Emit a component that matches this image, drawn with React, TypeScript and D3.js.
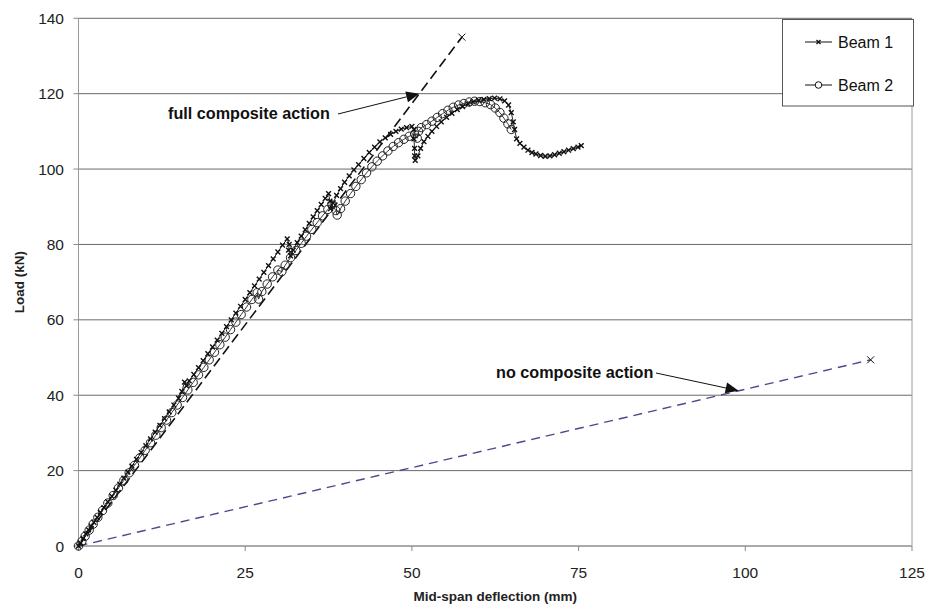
import React from "react";
import * as d3 from "d3";

const W = 931;
const H = 609;

const xTicks = [0, 25, 50, 75, 100, 125];
const yTicks = [0, 20, 40, 60, 80, 100, 120, 140];

const seriesNames = ["Beam 1", "Beam 2"];

const beam1X = [0, 0.3, 0.7, 1.1, 1.5, 1.9, 2.3, 2.8, 3.3, 3.8, 4.4, 5.0, 5.6, 6.2, 6.8, 7.4, 8.0, 8.7, 9.4, 10.1, 10.8, 11.5, 12.2, 12.9, 13.6, 14.3, 15.0, 15.5, 15.9, 16.2, 16.6, 17.3, 18.0, 18.7, 19.4, 20.1, 20.8, 21.5, 22.2, 22.9, 23.6, 24.3, 25.0, 25.7, 26.4, 27.1, 27.8, 28.5, 29.2, 29.9, 30.6, 31.3, 31.6, 31.5, 31.8, 32.2, 32.8, 33.4, 34.0, 34.6, 35.2, 35.8, 36.4, 37.0, 37.5, 37.7, 37.8, 38.2, 38.7, 39.3, 39.9, 40.6, 41.3, 42.0, 42.8, 43.6, 44.4, 45.2, 46.0, 46.8, 47.6, 48.4, 49.2, 50.0, 50.3, 50.3, 50.4, 50.4, 50.5, 50.9, 51.3, 51.8, 52.4, 53.0, 53.7, 54.4, 55.2, 56.0, 56.8, 57.6, 58.4, 59.2, 60.0, 60.8, 61.6, 62.4, 63.2, 63.9, 64.5, 64.9, 65.2, 65.4, 65.7, 66.2, 66.8, 67.4, 68.0, 68.6, 69.3, 70.0, 70.7, 71.4, 72.1, 72.8, 73.5, 74.2, 74.9, 75.4];
const beam1Y = [0, 0.8, 2.0, 3.2, 4.3, 5.3, 6.3, 7.6, 8.9, 10.2, 11.7, 13.2, 14.8, 16.4, 18.0, 19.6, 21.2, 23.0, 24.8, 26.6, 28.4, 30.2, 32.0, 33.8, 35.6, 37.4, 39.2, 41.0, 43.5, 42.5, 43.8, 45.5, 47.3, 49.2, 51.0, 52.8, 54.6, 56.4, 58.2, 60.0, 61.8, 63.6, 65.4, 67.2, 69.0, 70.8, 72.6, 74.4, 76.2, 78.0, 79.8, 81.5, 80.0, 78.5, 77.0, 78.5, 80.5, 82.2, 83.9, 85.6, 87.3, 89.0, 90.6, 92.2, 93.5, 91.5, 89.5, 91.0, 93.0, 94.8, 96.5, 98.2, 99.8, 101.2, 102.8, 104.4, 105.8, 107.2, 108.3, 109.2, 110.0, 110.6, 111.0, 111.3, 110.5, 108.0, 105.5, 103.5, 102.3, 103.5, 105.5, 107.3, 108.7, 110.0, 111.3, 112.5, 113.7, 114.8, 115.8, 116.6, 117.3, 117.8, 118.2, 118.5, 118.7, 118.8, 118.6, 118.1, 117.0, 115.0, 112.5, 110.5, 108.0, 106.8, 105.8, 105.0, 104.4, 104.0, 103.6, 103.4, 103.5, 103.8, 104.2, 104.6, 105.0, 105.4, 105.8, 106.2];

const beam2X = [0, 0.5, 1.0, 1.6, 2.2, 2.9, 3.6, 4.4, 5.2, 6.0, 6.8, 7.6, 8.4, 9.2, 10.0, 10.8, 11.6, 12.4, 13.2, 14.0, 14.8, 15.6, 16.4, 17.2, 18.0, 18.8, 19.6, 20.4, 21.2, 22.0, 22.8, 23.6, 24.4, 25.2, 26.0, 26.8, 27.0, 27.5, 28.3, 29.1, 29.9, 30.5, 31.0, 31.8, 32.6, 33.4, 34.2, 35.0, 35.8, 36.6, 37.4, 38.0, 38.6, 38.8, 39.3, 40.0, 40.8, 41.6, 42.4, 43.2, 44.0, 44.8, 45.6, 46.4, 47.2, 48.0, 48.8, 49.6, 50.4, 50.8, 51.0, 51.4, 52.2, 53.0, 53.8, 54.6, 55.4, 56.2, 57.0, 57.8, 58.6, 59.4, 60.2, 61.0, 61.8, 62.5, 63.2, 63.8, 64.4, 64.9];
const beam2Y = [0, 1.2, 2.6, 4.2, 5.8, 7.6, 9.4, 11.4, 13.4, 15.4, 17.4, 19.4, 21.4, 23.4, 25.4, 27.4, 29.4, 31.4, 33.4, 35.4, 37.4, 39.4, 41.4, 43.4, 45.4, 47.4, 49.4, 51.4, 53.4, 55.4, 57.4, 59.4, 61.4, 63.4, 65.4, 67.2, 65.5, 67.5, 69.5, 71.4, 73.2, 72.8, 74.5, 76.5, 78.4, 80.3, 82.2, 84.0, 85.8, 87.6, 89.3, 90.5, 89.0, 87.8, 89.5, 91.5, 93.5, 95.4, 97.2, 99.0, 100.6, 102.1, 103.5, 104.8, 106.0, 107.0, 107.9, 108.7, 109.3, 108.2, 110.0, 111.0, 111.8, 112.7, 113.7, 114.7, 115.6, 116.4, 117.0, 117.4, 117.8, 118.0, 117.9, 117.6, 117.1, 116.2, 115.0, 113.5, 112.0, 110.5];

const fullCompositeX = [0, 57.5];
const fullCompositeY = [0, 135];
const noCompositeX = [0, 118.8];
const noCompositeY = [0, 49.4];

const annotations = ["full composite action", "no composite action"];

const FONT = "'Liberation Sans', Arial, sans-serif";

export default function App() {
  const left = 78.5;
  const right = 912;
  const top = 18.3;
  const bottom = 546;
  const x = d3.scaleLinear().domain([0, 125]).range([left, right]);
  const y = d3.scaleLinear().domain([0, 140]).range([bottom, top]);

  const b1 = beam1X.map((v, i) => [v, beam1Y[i]] as [number, number]);
  const b2 = beam2X.map((v, i) => [v, beam2Y[i]] as [number, number]);
  const fc = fullCompositeX.map((v, i) => [v, fullCompositeY[i]] as [number, number]);
  const nc = noCompositeX.map((v, i) => [v, noCompositeY[i]] as [number, number]);

  const line = d3
    .line<[number, number]>()
    .x((d) => x(d[0]))
    .y((d) => y(d[1]));

  const xMark = (cx: number, cy: number, s: number, key: string, sw = 1) => (
    <path
      key={key}
      d={`M${cx - s},${cy - s}L${cx + s},${cy + s}M${cx - s},${cy + s}L${cx + s},${cy - s}`}
      stroke="#111"
      strokeWidth={sw}
      fill="none"
    />
  );

  const fcTip: [number, number] = [x(51.1), y(120)];
  const ncTip: [number, number] = [x(99), y(41.2)];

  const arrowHead = (from: [number, number], to: [number, number], key: string) => {
    const ang = Math.atan2(to[1] - from[1], to[0] - from[0]);
    const len = 13;
    const half = 5.5;
    const bx = to[0] - len * Math.cos(ang);
    const by = to[1] - len * Math.sin(ang);
    const px = -Math.sin(ang) * half;
    const py = Math.cos(ang) * half;
    return (
      <g key={key}>
        <line x1={from[0]} y1={from[1]} x2={bx} y2={by} stroke="#111" strokeWidth={1} />
        <path d={`M${to[0]},${to[1]}L${bx + px},${by + py}L${bx - px},${by - py}Z`} fill="#111" />
      </g>
    );
  };

  return (
    <svg
      width={W}
      height={H}
      style={{ position: "absolute", left: 0, top: 0, background: "#fff" }}
      fontFamily={FONT}
    >
      <rect x={0} y={0} width={W} height={H} fill="#fff" />
      {yTicks.filter((t) => t > 0).map((t) => (
        <line key={"g" + t} x1={left} x2={right} y1={y(t)} y2={y(t)} stroke="#6a6a6a" strokeWidth={1} />
      ))}
      <line x1={right} x2={right} y1={top} y2={bottom} stroke="#9a9a9a" strokeWidth={1} />
      <line x1={left} x2={left} y1={top} y2={bottom} stroke="#9a9a9a" strokeWidth={1} />
      {yTicks.map((t) => (
        <g key={"yt" + t}>
          <line x1={left - 5} x2={left} y1={y(t)} y2={y(t)} stroke="#888" strokeWidth={1} />
          <text x={64} y={y(t)} dy="0.36em" textAnchor="end" fontSize={15.5} fill="#222">
            {t}
          </text>
        </g>
      ))}
      <line x1={left} x2={right} y1={bottom} y2={bottom} stroke="#aaa" strokeWidth={2} />
      {xTicks.map((t) => (
        <g key={"xt" + t}>
          <line x1={x(t)} x2={x(t)} y1={bottom} y2={bottom + 5} stroke="#888" strokeWidth={1} />
          <text x={x(t)} y={572} dy="0.36em" textAnchor="middle" fontSize={15.5} fill="#222">
            {t}
          </text>
        </g>
      ))}

      <text
        transform={`translate(19,${(top + bottom) / 2}) rotate(-90)`}
        textAnchor="middle"
        dy="0.36em"
        fontSize={13.5}
        fontWeight="bold"
        fill="#222"
      >
        Load (kN)
      </text>
      <text x={(left + right) / 2} y={596} dy="0.36em" textAnchor="middle" fontSize={13.5} fontWeight="bold" fill="#222">
        Mid-span deflection (mm)
      </text>

      <path d={line(nc) || ""} stroke="#4b4a8c" strokeWidth={1.4} strokeDasharray="9,6" fill="none" />
      {xMark(x(nc[1][0]), y(nc[1][1]), 3.5, "ncend", 1)}
      <path d={line(fc) || ""} stroke="#111" strokeWidth={1.6} strokeDasharray="10,5" fill="none" />
      {xMark(x(fc[1][0]), y(fc[1][1]), 3.5, "fcend", 1)}

      <path d={line(b2) || ""} stroke="#222" strokeWidth={0.9} fill="none" />
      {b2.map((d, i) => (
        <circle key={"c" + i} cx={x(d[0])} cy={y(d[1])} r={4.2} fill="none" stroke="#222" strokeWidth={1} />
      ))}
      <path d={line(b1) || ""} stroke="#111" strokeWidth={0.9} fill="none" />
      {b1.map((d, i) => xMark(x(d[0]), y(d[1]), 2.4, "b1" + i, 1.4))}

      <text x={168} y={113} dy="0.36em" fontSize={16.2} fontWeight="bold" fill="#111">
        {annotations[0]}
      </text>
      {arrowHead([338, 114], fcTip, "a1")}
      <text x={496} y={372} dy="0.36em" fontSize={16.2} fontWeight="bold" fill="#111">
        {annotations[1]}
      </text>
      {arrowHead([656, 373], ncTip, "a2")}

      <rect x={782.5} y={19.5} width={131} height={86.5} fill="#fff" stroke="#555" strokeWidth={1} />
      <line x1={805} x2={832} y1={42} y2={42} stroke="#111" strokeWidth={1} />
      {xMark(818.5, 42, 2, "lg1", 1.4)}
      <text x={838} y={42} dy="0.36em" fontSize={16} fill="#111">
        {seriesNames[0]}
      </text>
      <line x1={805} x2={832} y1={85} y2={85} stroke="#111" strokeWidth={1} />
      <circle cx={818.5} cy={85} r={3.3} fill="#fff" stroke="#111" strokeWidth={1} />
      <text x={838} y={85} dy="0.36em" fontSize={16} fill="#111">
        {seriesNames[1]}
      </text>
    </svg>
  );
}
